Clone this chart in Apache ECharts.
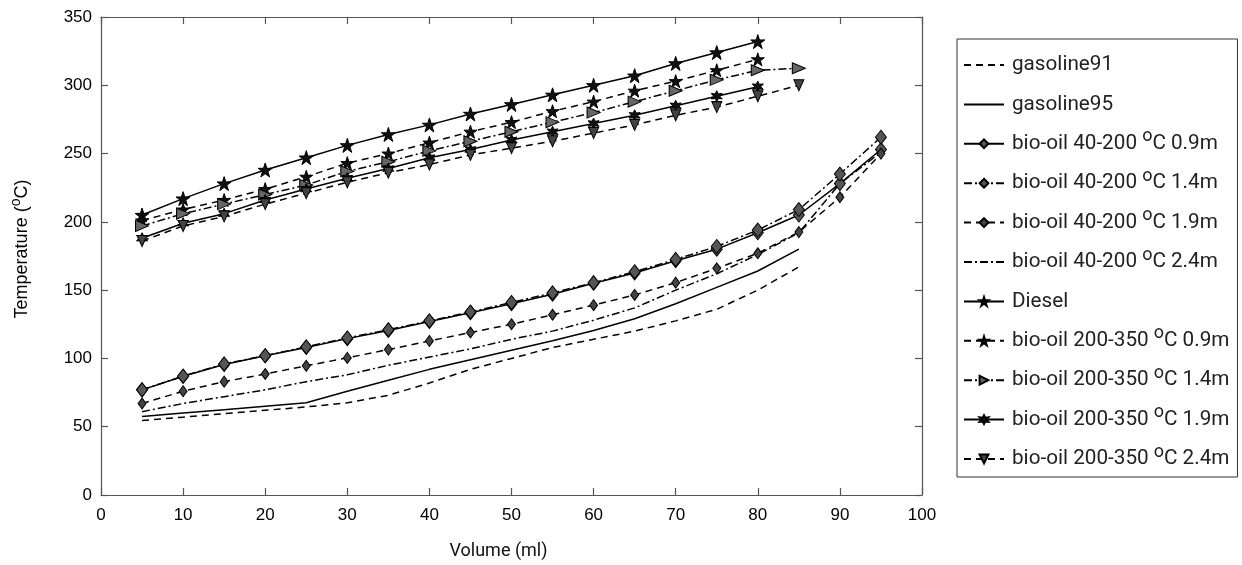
<!DOCTYPE html>
<html>
<head>
<meta charset="utf-8">
<script src="https://cdn.jsdelivr.net/npm/echarts@6/dist/echarts.min.js"></script>
<style>html,body{margin:0;padding:0;background:#fff;}#c{width:1242px;height:565px;}</style>
</head>
<body>
<div id="c"></div>
<script>
// ---- data ----
const vol80 = [5,10,15,20,25,30,35,40,45,50,55,60,65,70,75,80];
const vol85 = [5,10,15,20,25,30,35,40,45,50,55,60,65,70,75,80,85];
const vol95 = [5,10,15,20,25,30,35,40,45,50,55,60,65,70,75,80,85,90,95];

const gasoline91 = [54.5,57,59.5,62,64.5,67.5,73,82,92,100,108,114,120,127.5,136,150,167];
const gasoline95 = [57.5,60,62.5,65,67.5,76,84,92,99,106,113,120.5,129,140,152,164,180];
const bio40_09 = [77,87,95.5,102,108,114.5,120.5,127,133.5,140,147,155,162.5,171.5,180,192,205,228,253];
const bio40_14 = [77,87,96,102,108.5,115,121,127.5,134,141,148,155.5,163.5,172.5,182,194,209,235,262];
const bio40_19 = [67,76,83,88.6,94.6,100.4,106.5,112.8,119,125,132,139,146.5,155.5,166,177,192.5,218,250];
const bio40_24 = [61,67,72,77,83,88,95,101,107,114,120,128,137,150,162,176,192,228,251];
const diesel = [205,217,228,238,247,256,264,271,279,286,293,300,307,316,324,332];
const bio200_09 = [201,209,216,224,233,243,250,258,266,273,281,288,296,303,311,319];
const bio200_14 = [197,206,213,220,227,237,244,252,259,266,273,280,288,296,304,311,312.5];
const bio200_19 = [188,199,206,216,224,232,239,247,253,260,266,272,278,285,292,299];
const bio200_24 = [186,197,204,213,221,229,236,242,249,254,259,265,271,278,284,292,300];

const seriesNames = [
  'gasoline91','gasoline95',
  'bio-oil 40-200 °C 0.9m','bio-oil 40-200 °C 1.4m','bio-oil 40-200 °C 1.9m','bio-oil 40-200 °C 2.4m',
  'Diesel',
  'bio-oil 200-350 °C 0.9m','bio-oil 200-350 °C 1.4m','bio-oil 200-350 °C 1.9m','bio-oil 200-350 °C 2.4m'
];
const noMarker = ['gasoline91','gasoline95','bio-oil 40-200 °C 2.4m'];
const xTicks = {min:0, max:100, interval:10};
const yTicks = {min:0, max:350, interval:50};

// ---- helpers ----
const pairs = (xs, ys) => xs.map((x,i) => [x, ys[i]]);
const STAR = 'path://M50,0 L61.8,35.5 L99,35.5 L69,57.5 L80.5,93 L50,71 L19.5,93 L31,57.5 L1,35.5 L38.2,35.5 Z';
const HEX = 'path://M50,0 L62,29 L93,25 L74,50 L93,75 L62,71 L50,100 L38,71 L7,75 L26,50 L7,25 L38,29 Z';
const DASH = [7,5];
const DASHDOT = [8,3,2,3];

function mk(name, xs, ys, lineType, symbol, size, fill, rotate) {
  return {
    name: name, type: 'line', data: pairs(xs, ys),
    symbol: symbol || 'none', symbolSize: size || 0, symbolRotate: rotate || 0,
    showSymbol: !!symbol,
    lineStyle: {color: '#000', width: 1.5, type: lineType},
    itemStyle: {color: fill || '#000', borderColor: '#000', borderWidth: 1},
    emphasis: {disabled: true},
    z: 3
  };
}

const series = [
  mk(seriesNames[0], vol85, gasoline91, DASH),
  mk(seriesNames[1], vol85, gasoline95, 'solid'),
  mk(seriesNames[2], vol95, bio40_09, 'solid', 'diamond', [11,14], '#555'),
  mk(seriesNames[3], vol95, bio40_14, DASHDOT, 'diamond', [11,14], '#555'),
  mk(seriesNames[4], vol95, bio40_19, DASH, 'diamond', [8,11], '#444'),
  mk(seriesNames[5], vol95, bio40_24, DASHDOT),
  mk(seriesNames[6], vol80, diesel, 'solid', STAR, 14, '#111'),
  mk(seriesNames[7], vol80, bio200_09, DASH, STAR, 13, '#111'),
  mk(seriesNames[8], vol85, bio200_14, DASHDOT, 'triangle', [11,13], '#666', -90),
  mk(seriesNames[9], vol80, bio200_19, 'solid', HEX, 11, '#111'),
  mk(seriesNames[10], vol85, bio200_24, DASH, 'triangle', [10,11], '#444', 180)
];

const axisLine = () => ({show: true, onZero: false, lineStyle: {color: '#555', width: 1.2}});
const tick = () => ({show: true, inside: true, length: 7, lineStyle: {color: '#555', width: 1.2}});
const labelFont = () => ({color: '#000', fontFamily: '"Liberation Sans", Arial, sans-serif', fontSize: 17});

const chart = echarts.init(document.getElementById('c'), null, {renderer: 'canvas'});
chart.setOption({
  animation: false,
  backgroundColor: '#fff',
  grid: {left: 101, right: 320, top: 17, bottom: 63, containLabel: false},
  xAxis: [
    Object.assign({type: 'value', position: 'bottom', name: 'Volume (ml)', nameLocation: 'middle', nameGap: 47,
      nameTextStyle: {fontFamily: 'Roboto, sans-serif', fontSize: 18, color: '#111', padding: [0, 26, 0, 0]},
      axisLine: axisLine(), axisTick: tick(), splitLine: {show: false},
      axisLabel: Object.assign({margin: 12}, labelFont())}, xTicks),
    Object.assign({type: 'value', position: 'top', axisLine: axisLine(), axisTick: tick(),
      splitLine: {show: false}, axisLabel: {show: false}}, xTicks)
  ],
  yAxis: [
    Object.assign({type: 'value', position: 'left', name: 'Temperature ({sup|o}C)', nameLocation: 'middle', nameGap: 66,
      nameTextStyle: {fontFamily: '"Liberation Sans", Arial, sans-serif', fontSize: 18, color: '#000', padding: [0, 0, 0, 14],
        rich: {sup: {fontSize: 14, fontFamily: '"Liberation Sans", Arial, sans-serif', padding: [0, 0, 12, 0]}}},
      axisLine: axisLine(), axisTick: tick(), splitLine: {show: false},
      axisLabel: Object.assign({margin: 9}, labelFont())}, yTicks),
    Object.assign({type: 'value', position: 'right', axisLine: axisLine(), axisTick: tick(),
      splitLine: {show: false}, axisLabel: {show: false}}, yTicks)
  ],
  legend: {
    orient: 'vertical', left: 957, top: 39,
    data: seriesNames.map(n => noMarker.includes(n)
      ? {name: n, itemStyle: {color: 'rgba(0,0,0,0)', borderColor: 'rgba(0,0,0,0)', borderWidth: 0}}
      : {name: n}),
    itemWidth: 40, itemHeight: 11, itemGap: 11.4,
    padding: [10, 8, 6, 6],
    borderColor: '#333', borderWidth: 1, backgroundColor: '#fff',
    formatter: n => n.indexOf('°C') >= 0 ? n.replace('°C', '{sup|o}C') : n + '{sup| }',
    textStyle: {fontFamily: 'Roboto, sans-serif', fontSize: 20.7, color: '#222', lineHeight: 24, padding: [0,0,0,3],
      rich: {sup: {fontSize: 18, fontFamily: 'Roboto, sans-serif', color: '#222', padding: [0, 0, 14, 0]}}},
    selectedMode: false
  },
  series: series
});
</script>
</body>
</html>
